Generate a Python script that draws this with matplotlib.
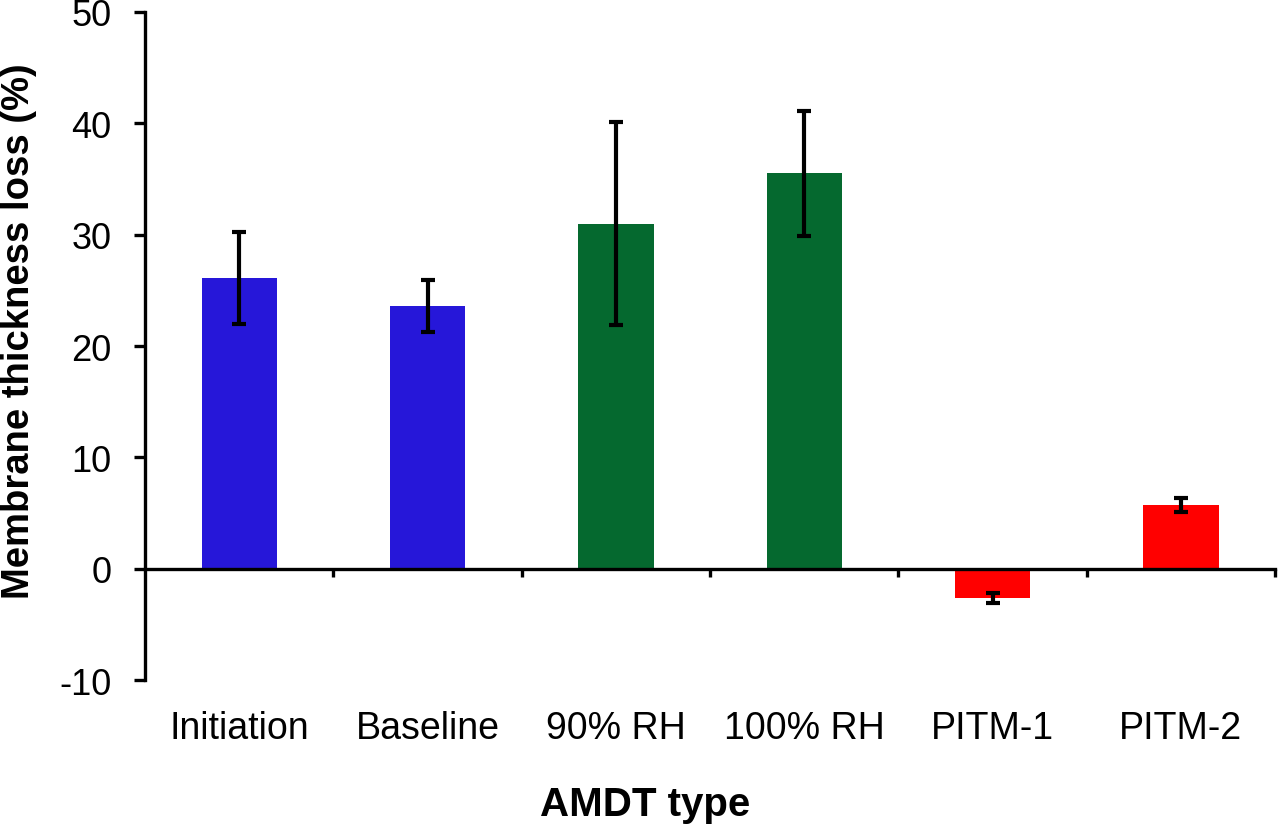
import numpy as np
from matplotlib import pyplot as plt

categories = ['Initiation', 'Baseline', '90% RH', '100% RH', 'PITM-1', 'PITM-2']
values = [26.1, 23.6, 31.0, 35.5, -2.6, 5.7]
errors = [4.1, 2.3, 9.1, 5.6, 0.45, 0.65]
colors = ['#2617d9', '#2617d9', '#05692f', '#05692f', '#ff0000', '#ff0000']
yticks = [-10, 0, 10, 20, 30, 40, 50]

plt.rcParams['font.family'] = ['Liberation Sans', 'DejaVu Sans']
plt.rcParams['axes.unicode_minus'] = False

fig = plt.figure(figsize=(12.8, 8.28), dpi=100)
ax = fig.add_axes([0.1133, 0.1775, 0.8828, 0.8068])

x = np.arange(len(categories))
ax.bar(x, values, width=0.4, color=colors, zorder=2)
ax.errorbar(x, values, yerr=errors, fmt='none', ecolor='black',
            elinewidth=3, capsize=5, capthick=3, zorder=3)

ax.set_xlim(-0.5, len(categories) - 0.5)
ax.set_ylim(-10, 50)

# spines: left full height, bottom drawn at zero
for side in ['top', 'right']:
    ax.spines[side].set_visible(False)
ax.spines['left'].set_linewidth(2.4)
ax.spines['bottom'].set_position(('data', 0))
ax.spines['bottom'].set_linewidth(2.4)
ax.spines['bottom'].set_zorder(4)

ax.set_yticks(yticks)
ax.tick_params(axis='y', direction='out', length=8, width=2.4,
               labelsize=26, pad=16)
# category boundary ticks on the zero line
ax.set_xticks(list(x[1:] - 0.5) + [len(categories) - 0.5])
ax.tick_params(axis='x', direction='out', length=6, width=2.4,
               labelbottom=False)

# category labels below the plot
for xi, name in zip(x, categories):
    ax.text(xi, -0.072, name, transform=ax.get_xaxis_transform(),
            ha='center', va='center', fontsize=27)

fig.text(645 / 1280, 1 - 805 / 828, 'AMDT type', ha='center', va='center',
         fontsize=29, fontweight='bold')
fig.text(19 / 1280, 1 - 331 / 828, 'Membrane thickness loss (%)',
         ha='center', va='center', rotation=90, fontsize=27.5,
         fontweight='bold')

fig.savefig('out.png', dpi=100)
